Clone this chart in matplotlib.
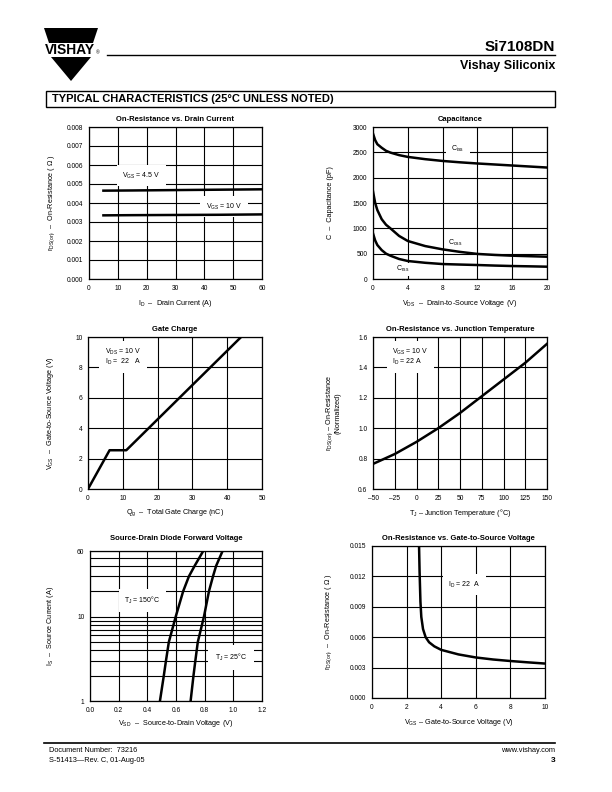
import matplotlib
matplotlib.use("Agg")
import matplotlib.pyplot as plt
from matplotlib.patches import Polygon, Rectangle
from matplotlib.ticker import NullFormatter

plt.rcParams['font.family'] = ['Liberation Sans', 'DejaVu Sans']
plt.rcParams['mathtext.fontset'] = 'custom'
plt.rcParams['mathtext.rm'] = 'Liberation Sans'
plt.rcParams['mathtext.it'] = 'Liberation Sans:italic'
plt.rcParams['mathtext.bf'] = 'Liberation Sans:bold'

# ---- data ----
# on-resistance vs drain current
id_a = [5, 15, 30, 45, 60]
rds_45v = [0.00465, 0.00466, 0.00468, 0.0047, 0.00472]
rds_10v = [0.00335, 0.00336, 0.00337, 0.00338, 0.0034]

# capacitance
vds = [0, 0.25, 0.5, 1, 1.5, 2, 3, 4, 6, 8, 10, 12, 14, 16, 18, 20]
ciss = [2870, 2740, 2660, 2590, 2530, 2495, 2445, 2410, 2365, 2330, 2303, 2280, 2260, 2240, 2220, 2200]
coss = [1730, 1500, 1360, 1180, 1070, 1000, 850, 750, 650, 585, 535, 495, 475, 460, 450, 440]
crss = [900, 760, 670, 570, 500, 460, 395, 355, 320, 295, 285, 276, 265, 256, 250, 243]

# gate charge
qg = [0, 6.2, 11, 44]
vgs_qg = [0, 2.55, 2.55, 10]

# normalized on-resistance vs junction temperature
tj = [-50, -25, 0, 25, 50, 75, 100, 125, 150]
rds_norm = [0.765, 0.83, 0.91, 1.0, 1.1, 1.21, 1.32, 1.43, 1.555]

# source-drain diode forward voltage
is_a = [1, 2, 3, 5, 10, 20, 30, 40, 60]
vsd_150 = [0.488, 0.515, 0.530, 0.550, 0.598, 0.650, 0.690, 0.730, 0.790]
vsd_25 = [0.702, 0.722, 0.735, 0.752, 0.795, 0.830, 0.858, 0.880, 0.925]

# on-resistance vs gate-to-source voltage
vgs = [2.72, 2.75, 2.8, 2.85, 2.95, 3.1, 3.3, 3.6, 4, 5, 6, 7, 8, 9, 10]
rds_vgs = [0.015, 0.0125, 0.0095, 0.0080, 0.0068, 0.0060, 0.0055, 0.0051, 0.00475,
           0.0043, 0.0040, 0.0038, 0.00365, 0.00352, 0.0034]

W, H = 612, 792
fig = plt.figure(figsize=(W / 100, H / 100), dpi=100)

# page overlay in pixel coordinates
bg = fig.add_axes([0, 0, 1, 1])
bg.set_xlim(0, W)
bg.set_ylim(H, 0)
bg.axis('off')

# logo
bg.add_patch(Polygon([(44, 28), (98, 28), (93, 43), (49, 43)], closed=True, color='black', lw=0))
bg.add_patch(Polygon([(51, 57), (91, 57), (71, 81)], closed=True, color='black', lw=0))
bg.text(70, 50.5, 'VISHAY', fontsize=10, fontweight='bold', ha='center', va='center')
bg.text(96, 53, '®', fontsize=3.5, ha='left', va='center')

bg.plot([107, 555], [55, 55], color='black', lw=1.0)
bg.text(555, 47, 'Si7108DN', fontsize=11, fontweight='bold', ha='right', va='center')
bg.text(555, 66, 'Vishay Siliconix', fontsize=9, fontweight='bold', ha='right', va='center')

bg.add_patch(Rectangle((46, 91), 509, 15.5, fill=False, lw=1.0, ec='black'))
bg.text(52, 99, 'TYPICAL CHARACTERISTICS (25°C UNLESS NOTED)', fontsize=8,
        fontweight='heavy', ha='left', va='center')

# footer
bg.plot([44, 555], [743, 743], color='black', lw=1.2)
bg.text(49, 750, 'Document Number:  73216', fontsize=5.3, ha='left', va='center')
bg.text(49, 761, 'S-51413—Rev. C, 01-Aug-05', fontsize=5.3, ha='left', va='center')
bg.text(555, 750, 'www.vishay.com', fontsize=5.3, ha='right', va='center')
bg.text(555, 761, '3', fontsize=6, fontweight='bold', ha='right', va='center')


def add_ax(x0, y0, x1, y1):
    return fig.add_axes([x0 / W, 1 - y1 / H, (x1 - x0) / W, (y1 - y0) / H])


def style(ax, title, xlabel, ylabel, xl, yl, tpad=4):
    ax.set_title(title, fontsize=5.5, fontweight='bold', pad=tpad)
    ax.set_xlabel(xlabel, fontsize=5.2)
    ax.set_ylabel(ylabel, fontsize=5.2)
    ax.xaxis.set_label_coords(0.5, xl)
    ax.yaxis.set_label_coords(yl, 0.5)
    ax.xaxis.label.set_va('center')
    ax.yaxis.label.set_va('center')
    ax.tick_params(which='both', length=0, labelsize=4.8, pad=4)
    ax.grid(True, which='both', color='black', lw=0.8)
    ax.set_axisbelow(True)
    for s in ax.spines.values():
        s.set_lw(0.9)


box = dict(facecolor='white', edgecolor='none', pad=4)
small_box = dict(facecolor='white', edgecolor='none', pad=1)
curve = dict(color='black', lw=1.8, zorder=5)
lab_ron = r'r$_{\mathrm{DS(on)}}$  –  On-Resistance ( Ω )'

# 1: on-resistance vs drain current
ax1 = add_ax(89, 127, 262, 279)
ax1.plot(id_a, rds_45v, **curve)
ax1.plot(id_a, rds_10v, **curve)
ax1.set_xlim(0, 60)
ax1.set_ylim(0, 0.008)
ax1.set_xticks(range(0, 61, 10))
yt = [i * 0.001 for i in range(9)]
ax1.set_yticks(yt)
ax1.set_yticklabels(['%.3f' % v for v in yt])
ax1.text(11.5, 0.00545, r'V$_{\mathrm{GS}}$ = 4.5 V', fontsize=5, bbox=box, va='center')
ax1.text(40.5, 0.0038, r'V$_{\mathrm{GS}}$ = 10 V', fontsize=5, bbox=box, va='center')
style(ax1, 'On-Resistance vs. Drain Current', r'I$_{\mathrm{D}}$  –  Drain Current (A)',
      lab_ron, -0.158, -0.214)

# 2: capacitance
ax2 = add_ax(373, 127, 547, 279)
ax2.plot(vds, ciss, **curve)
ax2.plot(vds, coss, **curve)
ax2.plot(vds, crss, **curve)
ax2.set_xlim(0, 20)
ax2.set_ylim(0, 3000)
ax2.set_xticks(range(0, 21, 4))
ax2.set_yticks(range(0, 3001, 500))
ax2.text(9.0, 2570, r'C$_{\mathrm{iss}}$', fontsize=5, bbox=box, va='center')
ax2.text(8.6, 710, r'C$_{\mathrm{oss}}$', fontsize=5, bbox=small_box, va='center')
ax2.text(2.7, 195, r'C$_{\mathrm{rss}}$', fontsize=5, bbox=small_box, va='center')
style(ax2, 'Capacitance', r'V$_{\mathrm{DS}}$  –  Drain-to-Source Voltage (V)',
      'C  –  Capacitance (pF)', -0.158, -0.247)

# 3: gate charge
ax3 = add_ax(88, 337, 262, 489)
ax3.plot(qg, vgs_qg, **curve)
ax3.set_xlim(0, 50)
ax3.set_ylim(0, 10)
ax3.set_xticks(range(0, 51, 10))
ax3.set_yticks(range(0, 11, 2))
ax3.text(4.9, 8.7, r'V$_{\mathrm{DS}}$ = 10 V' + '\n' + r'I$_{\mathrm{D}}$ =  22   A', fontsize=5,
         bbox=box, va='center', linespacing=1.0)
style(ax3, 'Gate Charge', r'Q$_{\mathrm{g}}$  –  Total Gate Charge (nC)',
      r'V$_{\mathrm{GS}}$  –  Gate-to-Source Voltage (V)', -0.158, -0.213)

# 4: on-resistance vs junction temperature
ax4 = add_ax(373, 337, 547, 489)
ax4.plot(tj, rds_norm, **curve)
ax4.set_xlim(-50, 150)
ax4.set_ylim(0.6, 1.6)
xt = list(range(-50, 151, 25))
ax4.set_xticks(xt)
ax4.set_xticklabels([str(v).replace('-', '–') for v in xt])
yt4 = [0.6, 0.8, 1.0, 1.2, 1.4, 1.6]
ax4.set_yticks(yt4)
ax4.set_yticklabels(['%.1f' % v for v in yt4])
ax4.text(-28, 1.47, r'V$_{\mathrm{GS}}$ = 10 V' + '\n' + r'I$_{\mathrm{D}}$ = 22 A', fontsize=5,
         bbox=box, va='center', linespacing=1.0)
style(ax4, 'On-Resistance vs. Junction Temperature', r'T$_{\mathrm{J}}$ – Junction Temperature (°C)',
      r'r$_{\mathrm{DS(on)}}$ – On-Resistance' + '\n(Normalized)', -0.158, -0.23)
ax4.yaxis.label.set_linespacing(0.9)

# 5: source-drain diode forward voltage
ax5 = add_ax(90, 551, 262, 701)
ax5.plot(vsd_150, is_a, **curve)
ax5.plot(vsd_25, is_a, **curve)
ax5.set_yscale('log')
ax5.set_xlim(0, 1.2)
ax5.set_ylim(1, 60)
ax5.set_xticks([0, 0.2, 0.4, 0.6, 0.8, 1.0, 1.2])
ax5.set_xticklabels(['0.0', '0.2', '0.4', '0.6', '0.8', '1.0', '1.2'])
ax5.set_yticks([1, 10, 60])
ax5.set_yticklabels(['1', '10', '60'])
ax5.set_yticks([2, 3, 4, 5, 6, 7, 8, 9, 20, 30, 40, 50], minor=True)
ax5.yaxis.set_minor_formatter(NullFormatter())
ax5.text(0.24, 15.5, r'T$_{\mathrm{J}}$ = 150°C', fontsize=5, bbox=box, va='center')
ax5.text(0.87, 3.3, r'T$_{\mathrm{J}}$ = 25°C', fontsize=5,
         bbox=dict(facecolor='white', edgecolor='none', pad=5), va='center')
style(ax5, 'Source-Drain Diode Forward Voltage', r'V$_{\mathrm{SD}}$  –  Source-to-Drain Voltage (V)',
      r'I$_{\mathrm{S}}$  –  Source Current (A)', -0.147, -0.227, tpad=8)

# 6: on-resistance vs gate-to-source voltage
ax6 = add_ax(372, 546, 545, 698)
ax6.plot(vgs, rds_vgs, **curve)
ax6.set_xlim(0, 10)
ax6.set_ylim(0, 0.015)
ax6.set_xticks(range(0, 11, 2))
yt6 = [0, 0.003, 0.006, 0.009, 0.012, 0.015]
ax6.set_yticks(yt6)
ax6.set_yticklabels(['%.3f' % v for v in yt6])
ax6.text(4.4, 0.0112, r'I$_{\mathrm{D}}$ = 22  A', fontsize=5, bbox=box, va='center')
style(ax6, 'On-Resistance vs. Gate-to-Source Voltage', r'V$_{\mathrm{GS}}$ – Gate-to-Source Voltage (V)',
      lab_ron, -0.164, -0.249)

fig.savefig('out.png', dpi=100)
